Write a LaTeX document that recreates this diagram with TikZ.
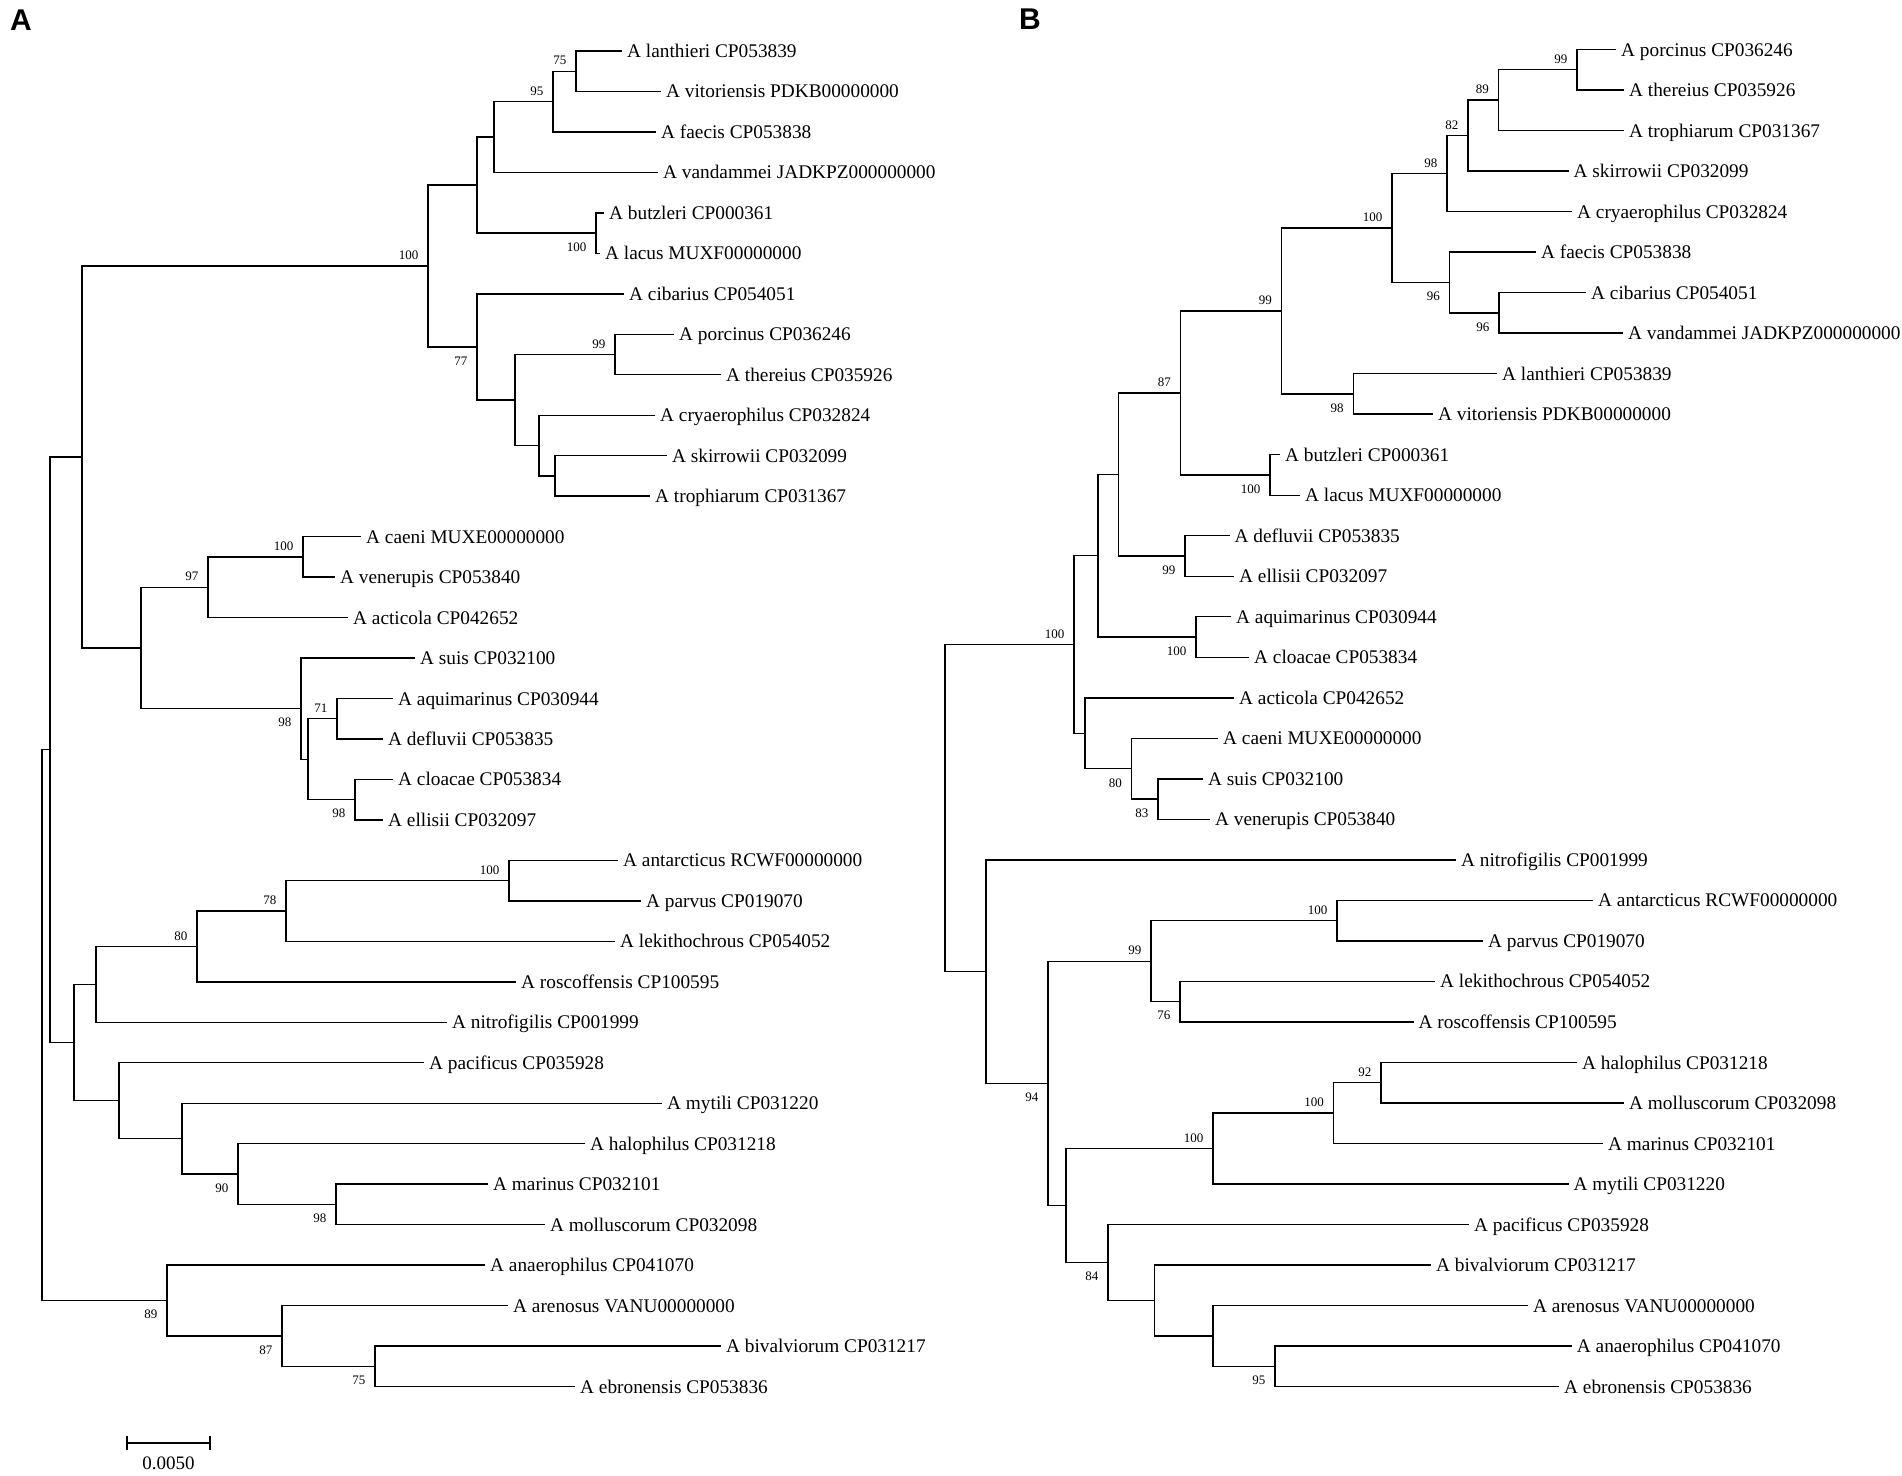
\documentclass[tikz,border=0pt]{standalone}
\usepackage{fontspec}
\setmainfont{Liberation Serif}
\newfontfamily\panelfont{Liberation Sans}
\def\LyA#1{51+40.47*(#1)}
\def\LyB#1{49.5+40.52*(#1)}
\begin{document}
\begin{tikzpicture}[x=1pt,y=-1pt,
  br/.style={line width=1.4pt,black},
  leaf/.style={anchor=base west,inner sep=0pt,xshift=5pt,yshift=-6.5pt,font=\fontsize{19.3pt}{23pt}\selectfont},
  bsup/.style={anchor=east,inner sep=0pt,xshift=-9.5pt,yshift=10.5pt,font=\fontsize{13pt}{15pt}\selectfont},
  bsdn/.style={anchor=east,inner sep=0pt,xshift=-9.5pt,yshift=-14pt,font=\fontsize{13pt}{15pt}\selectfont},
  panel/.style={anchor=base west,inner sep=0pt,font=\panelfont\bfseries\fontsize{30pt}{34pt}\selectfont}]
\fill[white] (0,0) rectangle (1902,1475);
\useasboundingbox (0,0) rectangle (1902,1475);

\node[panel] (pA) at (10,30) {A};
\node[panel] (pB) at (1019,29) {B};

% ---------------- Tree A ----------------
\foreach \i/\x in {0/622,1/661,2/656,3/658,4/604,5/600,6/624,7/674,8/721,9/655,10/667,11/650,12/361,13/335,14/348,15/415,16/393,17/383,18/393,19/383,20/618,21/641,22/615,23/516,24/447,25/424,26/662,27/585,28/488,29/545,30/485,31/508,32/721,33/575}
  \coordinate (A\i) at (\x,{\LyA{\i}});

\foreach \n/\x/\k in {a75/576/0.5, a95/553/1.25, aX/494/2.125, abut/596/4.5, aY/477/3.3125, a99/615/7.5, aR/555/10.5, aQ/539/9.75, aP/515/8.625, a77/477/7.3125, ahb/428/5.3125, aC/303/12.5, a97/208/13.25, a71/337/16.5, a98b/355/18.5, aD/308/17.5, a98/301/16.25, aAA/141/14.75, atop/82/10.03125, a100p/509/20.5, a78/286/21.25, a80/197/22.125, aN/96/23.0625, a98c/336/28.5, a90/238/27.75, aMy/182/26.875, aPac/119/25.9375, aM/74/24.5, a50/50/17.265625, a75b/375/32.5, a87/282/31.75, a89/167/30.875, aroot/42/24.0703125}
  \coordinate (\n) at (\x,{\LyA{\k}});

\foreach \p/\c in {a75/A0,a75/A1,a95/a75,a95/A2,aX/a95,aX/A3,abut/A4,abut/A5,aY/aX,aY/abut,a99/A7,a99/A8,aR/A10,aR/A11,aQ/A9,aQ/aR,aP/a99,aP/aQ,a77/A6,a77/aP,ahb/aY,ahb/a77,aC/A12,aC/A13,a97/aC,a97/A14,a71/A16,a71/A17,a98b/A18,a98b/A19,aD/a71,aD/a98b,a98/A15,a98/aD,aAA/a97,aAA/a98,atop/ahb,atop/aAA,a100p/A20,a100p/A21,a78/a100p,a78/A22,a80/a78,a80/A23,aN/a80,aN/A24,a98c/A28,a98c/A29,a90/A27,a90/a98c,aMy/A26,aMy/a90,aPac/A25,aPac/aMy,aM/aN,aM/aPac,a50/atop,a50/aM,a75b/A32,a75b/A33,a87/A31,a87/a75b,a89/A30,a89/a87,aroot/a50,aroot/a89}
  \draw[br] (\p) |- (\c);

\foreach \i/\t in {0/A lanthieri CP053839,1/A vitoriensis PDKB00000000,2/A faecis CP053838,3/A vandammei JADKPZ000000000,4/A butzleri CP000361,5/A lacus MUXF00000000,6/A cibarius CP054051,7/A porcinus CP036246,8/A thereius CP035926,9/A cryaerophilus CP032824,10/A skirrowii CP032099,11/A trophiarum CP031367,12/A caeni MUXE00000000,13/A venerupis CP053840,14/A acticola CP042652,15/A suis CP032100,16/A aquimarinus CP030944,17/A defluvii CP053835,18/A cloacae CP053834,19/A ellisii CP032097,20/A antarcticus RCWF00000000,21/A parvus CP019070,22/A lekithochrous CP054052,23/A roscoffensis CP100595,24/A nitrofigilis CP001999,25/A pacificus CP035928,26/A mytili CP031220,27/A halophilus CP031218,28/A marinus CP032101,29/A molluscorum CP032098,30/A anaerophilus CP041070,31/A arenosus VANU00000000,32/A bivalviorum CP031217,33/A ebronensis CP053836}
  \node[leaf] (LA\i) at (A\i) {\t};

\foreach \n/\v in {a75/75,a95/95,ahb/100,a99/99,aC/100,a97/97,a71/71,a100p/100,a78/78,a80/80}
  \node[bsup] (s\n) at (\n) {\v};
\foreach \n/\v in {abut/100,a77/77,a98/98,a98b/98,a90/90,a98c/98,a89/89,a87/87,a75b/75}
  \node[bsdn] (s\n) at (\n) {\v};

% scale bar
\coordinate (sb1) at (127,1443);
\coordinate (sb2) at (210,1443);
\draw[br] (sb1) -- (sb2);
\draw[br] (127,1436) -- (127,1450);
\draw[br] (210,1436) -- (210,1450);
\node[anchor=base,inner sep=0pt,font=\fontsize{19pt}{23pt}\selectfont] (sbl) at (168.5,1469) {0.0050};

% ---------------- Tree B ----------------
\foreach \i/\x in {0/1616,1/1624,2/1624,3/1568.5,4/1572,5/1536,6/1586,7/1623,8/1497,9/1433,10/1280,11/1300,12/1229.5,13/1234,14/1231,15/1249,16/1234,17/1218,18/1203,19/1210,20/1456,21/1593,22/1483,23/1435,24/1413.5,25/1577,26/1624,27/1603,28/1568.5,29/1469,30/1431,31/1528,32/1571.7,33/1559}
  \coordinate (B\i) at (\x,{\LyB{\i}});

\foreach \n/\x/\k in {b99/1577/0.5, b89/1498.5/1.25, b82/1468/2.125, b98/1447/3.0625, b96b/1499/6.5, b96/1449.5/5.75, b100/1392/4.40625, b98lv/1353.4/8.5, b99big/1281.5/6.453125, bbut/1270/10.5, b87/1180.5/8.4765625, b99de/1185/12.5, bE/1118.5/10.48828125, b100ac/1196/14.5, bF/1098/12.494140625, b83/1158/18.5, b80/1131.5/17.75, bG/1085/16.875, bhb/1074/14.6845703125, b100p/1337/21.5, b76/1180/23.5, b99l/1151/22.5, b92/1381/25.5, b100m/1333.6/26.25, b100mm/1213/27.125, b95/1275/32.5, bK/1213/31.75, bJ/1154.4/30.875, b84/1108/29.9375, bI/1066/28.53125, b94/1048/25.515625, bH/986/22.7578125, broot/945/18.72119140625}
  \coordinate (\n) at (\x,{\LyB{\k}});

\foreach \p/\c in {b99/B0,b99/B1,b89/b99,b89/B2,b82/b89,b82/B3,b98/b82,b98/B4,b96b/B6,b96b/B7,b96/B5,b96/b96b,b100/b98,b100/b96,b98lv/B8,b98lv/B9,b99big/b100,b99big/b98lv,bbut/B10,bbut/B11,b87/b99big,b87/bbut,b99de/B12,b99de/B13,bE/b87,bE/b99de,b100ac/B14,b100ac/B15,bF/bE,bF/b100ac,b83/B18,b83/B19,b80/B17,b80/b83,bG/B16,bG/b80,bhb/bF,bhb/bG,b100p/B21,b100p/B22,b76/B23,b76/B24,b99l/b100p,b99l/b76,b92/B25,b92/B26,b100m/b92,b100m/B27,b100mm/b100m,b100mm/B28,b95/B32,b95/B33,bK/B31,bK/b95,bJ/B30,bJ/bK,b84/B29,b84/bJ,bI/b100mm,bI/b84,b94/b99l,b94/bI,bH/B20,bH/b94,broot/bhb,broot/bH}
  \draw[br] (\p) |- (\c);

\foreach \i/\t in {0/A porcinus CP036246,1/A thereius CP035926,2/A trophiarum CP031367,3/A skirrowii CP032099,4/A cryaerophilus CP032824,5/A faecis CP053838,6/A cibarius CP054051,7/A vandammei JADKPZ000000000,8/A lanthieri CP053839,9/A vitoriensis PDKB00000000,10/A butzleri CP000361,11/A lacus MUXF00000000,12/A defluvii CP053835,13/A ellisii CP032097,14/A aquimarinus CP030944,15/A cloacae CP053834,16/A acticola CP042652,17/A caeni MUXE00000000,18/A suis CP032100,19/A venerupis CP053840,20/A nitrofigilis CP001999,21/A antarcticus RCWF00000000,22/A parvus CP019070,23/A lekithochrous CP054052,24/A roscoffensis CP100595,25/A halophilus CP031218,26/A molluscorum CP032098,27/A marinus CP032101,28/A mytili CP031220,29/A pacificus CP035928,30/A bivalviorum CP031217,31/A arenosus VANU00000000,32/A anaerophilus CP041070,33/A ebronensis CP053836}
  \node[leaf] (LB\i) at (B\i) {\t};

\foreach \n/\v in {b99/99,b89/89,b82/82,b98/98,b100/100,b99big/99,b87/87,bhb/100,b100p/100,b99l/99,b92/92,b100m/100,b100mm/100}
  \node[bsup] (s\n) at (\n) {\v};
\foreach \n/\v in {b96/96,b96b/96,b98lv/98,bbut/100,b99de/99,b100ac/100,b80/80,b83/83,b76/76,b94/94,b84/84,b95/95}
  \node[bsdn] (s\n) at (\n) {\v};
\end{tikzpicture}
\end{document}
